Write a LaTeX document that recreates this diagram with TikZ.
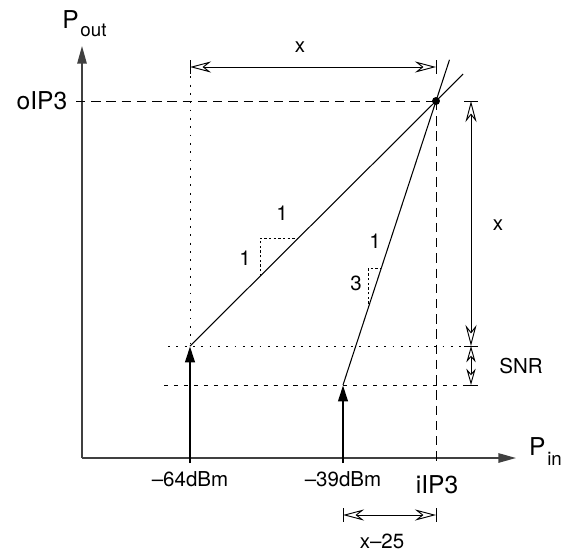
\documentclass[tikz,border=0pt]{standalone}
\usepackage{fontspec}
\setmainfont{TeX Gyre Heros}
\usepackage{tikz}
\usetikzlibrary{arrows.meta,calc}

\begin{document}
\begin{tikzpicture}[x={(0.03cm,0cm)},y={(0cm,-0.03cm)},
  axis/.style={line width=1.3pt,black!75,-{Triangle[length=15pt,width=8pt]}},
  power/.style={line width=2.4pt,-{Triangle[length=14pt,width=8pt]}},
  dim/.style={line width=0.8pt,{Stealth[open,length=18pt,width=9.5pt,inset=6pt]}-{Stealth[open,length=18pt,width=9.5pt,inset=6pt]}},
  dimshort/.style={line width=0.8pt,{Stealth[open,length=14pt,width=8pt,inset=4.5pt]}-{Stealth[open,length=14pt,width=8pt,inset=4.5pt]}},
  lbl/.style={inner sep=0pt,font=\fontsize{17.5}{21}\selectfont},
  sub/.style={inner sep=0pt,font=\fontsize{16}{19}\selectfont},
  big/.style={inner sep=0pt,font=\fontsize{21}{25}\selectfont},
  dashln/.style={line width=0.8pt,dash pattern=on 8pt off 5pt},
  dotln/.style={line width=0.8pt,dash pattern=on 1.6pt off 5.5pt},
  sdashln/.style={line width=0.8pt,dash pattern=on 3.5pt off 5pt},
  tri/.style={line width=0.8pt,dash pattern=on 2pt off 2pt}]
  \useasboundingbox (0,0) rectangle (567,553);
  \coordinate (O) at (82,458);
  \coordinate (ytip) at (82,46);
  \coordinate (xtip) at (516,458);
  \coordinate (A) at (190,346);
  \coordinate (B) at (343,385);
  \coordinate (IP) at (436,101);
  \coordinate (Abot) at (190,463);
  \coordinate (Bbot) at (343,463);
  \coordinate (IPbot) at (436,463);
  \coordinate (Atop) at (190,68);
  \coordinate (oy) at (76,101);
  \draw[axis] (O) -- (ytip);
  \draw[axis] (O) -- (xtip);
  \node[big,anchor=base east] (pout) at (79,28) {P};
  \node[sub,anchor=base west] (poutsub) at (pout.base east) [yshift=-7pt,xshift=1pt] {out};
  \node[big,anchor=base west] (pin) at (529,455) {P};
  \node[sub,anchor=base west] (pinsub) at (pin.base east) [yshift=-9pt,xshift=1pt] {in};
  \draw[dashln] (oy) -- (IP);
  \draw[dashln] (IP) -- (IPbot);
  \draw[dotln] (Atop) -- (A);
  \draw[dotln] (168,346) -- (478,346);
  \draw[sdashln] (164,385) -- (478,385);
  \draw[line width=0.9pt] (A) -- ($(A)!1.11!(IP)$);
  \draw[line width=0.9pt] (B) -- ($(B)!1.145!(IP)$);
  \fill (IP) circle[radius=3.4pt];
  \draw[power] (Abot) -- (A);
  \draw[power] (Bbot) -- (B);
  \draw[tri] ($(A)!0.285!(IP)$) |- ($(A)!0.44!(IP)$);
  \draw[tri] ($(B)!0.27!(IP)$) |- ($(B)!0.41!(IP)$);
  \node[lbl] (run1) at (282,213) {1};
  \node[lbl] (rise1) at (245,258) {1};
  \node[lbl] (run2) at (375,241) {1};
  \node[lbl] (rise2) at (356,283) {3};
  \node[big] (oip) at (42,101) {oIP3};
  \node[lbl] (pa) at (190,479) {\textendash64dBm};
  \node[lbl] (pb) at (343,479) {\textendash39dBm};
  \node[big] (iip) at (437,485) {iIP3};
  \draw[line width=0.8pt] (190,60) -- (190,74) (436,60) -- (436,74);
  \draw[dim] (190,67) -- (436,67);
  \node[lbl] (dx) at (300,47) {x};
  \draw[line width=0.8pt] (464,101) -- (478,101) (464,346) -- (478,346) (464,385) -- (478,385);
  \draw[dim] (471,101) -- (471,346);
  \draw[dimshort] (471,346) -- (471,385);
  \node[lbl] (dy) at (498,225) {x};
  \node[lbl] (snr) at (521,366) {SNR};
  \draw[line width=0.8pt] (343,508) -- (343,522) (436,508) -- (436,522);
  \draw[dim] (343,515) -- (436,515);
  \node[lbl] (dx2) at (382,541) {x\textendash25};
\end{tikzpicture}
\end{document}
